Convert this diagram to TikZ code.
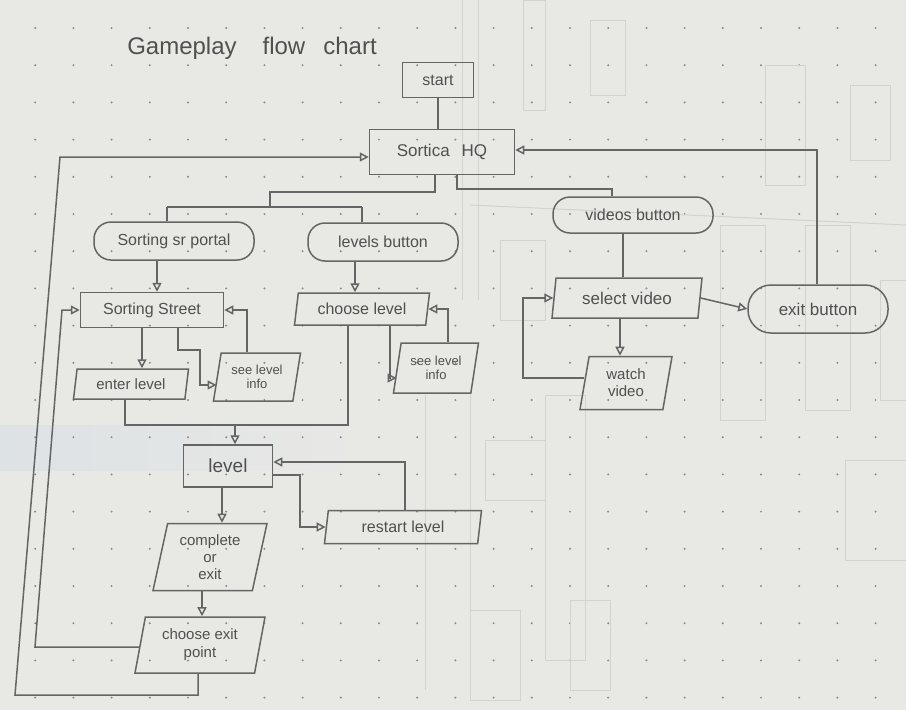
\documentclass[tikz,border=0pt]{standalone}
\usepackage{fontspec}
\setmainfont{Liberation Sans}
\usetikzlibrary{arrows.meta,shapes.geometric}
\definecolor{paper}{HTML}{E8E8E5}
\definecolor{band}{HTML}{DDE2E5}
\definecolor{ink}{HTML}{656565}
\definecolor{txt}{HTML}{505050}
\definecolor{faint}{HTML}{D2D2D0}
\definecolor{dotc}{HTML}{8A8A8A}
\begin{document}
\begin{tikzpicture}[x=1pt,y=-1pt,
  line/.style={draw=ink,line width=1.5pt},
  arr/.style={line,-{Triangle[open,length=9pt,width=9pt]}},
  box/.style={draw=ink,line width=1.5pt,text=txt,font=\fontsize{16}{17}\selectfont,inner sep=0pt,align=center},
  rectbox/.style={box,rectangle},
  pill/.style={box,rectangle,rounded corners=17pt},
  para/.style={box,trapezium,trapezium left angle=72,trapezium right angle=108,trapezium stretches body},
  faintbox/.style={draw=faint,line width=1pt}
]
\useasboundingbox (0,0) rectangle (906,710);
\fill[paper] (0,0) rectangle (906,710);
\shade[left color=band,right color=paper] (0,425) rectangle (360,470);
% dot grid
\foreach \i in {0,...,24}{
  \foreach \j in {0,...,18}{
    \fill[dotc] (-3+\i*38.2,28+\j*37.2) circle (1.1pt);
  }
}
% faint bleed-through marks
\draw[faintbox] (523,0) rectangle (545,110);
\draw[faintbox] (590,20) rectangle (625,95);
\draw[faintbox] (765,65) rectangle (805,185);
\draw[faintbox] (850,85) rectangle (890,160);
\draw[faintbox] (500,240) rectangle (545,320);
\draw[faintbox] (720,225) rectangle (765,420);
\draw[faintbox] (805,225) rectangle (850,410);
\draw[faintbox] (880,280) rectangle (906,400);
\draw[faintbox] (462,0) -- (462,300);
\draw[faintbox] (478,0) -- (478,300);
\draw[faintbox] (425,395) -- (425,690);
\draw[faintbox] (470,395) -- (470,690);
\draw[faintbox] (545,395) rectangle (585,660);
\draw[faintbox] (485,440) rectangle (545,500);
\draw[faintbox] (570,600) rectangle (610,690);
\draw[faintbox] (470,610) rectangle (520,700);
\draw[faintbox] (845,460) rectangle (906,560);
\draw[faintbox] (470,205) -- (906,225);

% title
\node[text=txt,font=\fontsize{24}{26}\selectfont] (title) at (252,48) {Gameplay\hspace{26pt}flow\hspace{18pt}chart};

% nodes
\node[rectbox,minimum width=71pt,minimum height=35pt] (start) at (438,80) {start};
\node[rectbox,minimum width=145pt,minimum height=45pt,font=\fontsize{17}{18}\selectfont] (hq) at (442,152) {Sortica\hspace{12pt}HQ};
\node[pill,minimum width=160pt,minimum height=38pt] (portal) at (174,241) {Sorting sr portal};
\node[pill,minimum width=150pt,minimum height=38pt] (levbtn) at (383,242) {levels button};
\node[pill,minimum width=160pt,minimum height=36pt] (vidbtn) at (633,215) {videos button};
\node[pill,rounded corners=23pt,minimum width=140pt,minimum height=48pt,font=\fontsize{17}{18}\selectfont] (exitbtn) at (818,309) {exit button};
\node[rectbox,minimum width=143pt,minimum height=35pt] (street) at (152,310) {Sorting Street};
\node[para,minimum width=135pt,minimum height=32pt] (chooselvl) at (362,309) {choose level};
\node[para,minimum width=115pt,minimum height=30pt,font=\fontsize{15}{16}\selectfont] (enter) at (131,384) {enter level};
\node[para,minimum width=87pt,minimum height=48pt,font=\fontsize{13}{14}\selectfont] (seeinfo1) at (257,377) {see level\\info};
\node[para,minimum width=85pt,minimum height=50pt,font=\fontsize{13}{14}\selectfont] (seeinfo2) at (436,368) {see level\\info};
\node[rectbox,minimum width=89pt,minimum height=42pt,font=\fontsize{19}{20}\selectfont] (level) at (228,466) {level};
\node[para,minimum width=157pt,minimum height=33pt] (restart) at (403,527) {restart level};
\node[para,minimum width=114pt,minimum height=67pt,font=\fontsize{15}{17}\selectfont] (complete) at (210,557) {complete\\or\\exit};
\node[para,minimum width=130pt,minimum height=56pt,font=\fontsize{15}{18}\selectfont] (chooseexit) at (200,645) {choose exit\\point};
\node[para,minimum width=150pt,minimum height=40pt,font=\fontsize{17}{18}\selectfont] (selectvid) at (627,298) {select video};
\node[para,minimum width=92pt,minimum height=53pt,font=\fontsize{15}{17}\selectfont] (watch) at (626,383) {watch\\video};

% helper coordinates
\coordinate (hqL) at ([xshift=-7pt]hq.south);
\coordinate (hqR) at ([xshift=15pt]hq.south);
\coordinate (b1) at (270,192);
\coordinate (b2) at (270,207);
\coordinate (hl) at (167,207);
\coordinate (hr) at (362,207);
\coordinate (vr) at (612,189);
\coordinate (er) at (817,160);
\coordinate (o1) at (198,695);
\coordinate (o2) at (15,695);
\coordinate (o3) at (60,157);
\coordinate (i1) at (35,647);
\coordinate (i2) at (62,310);
\coordinate (p1) at ([xshift=-17pt]portal.south);
\coordinate (p2) at ([xshift=-28pt]levbtn.south);
\coordinate (p3) at ([xshift=-10pt]street.south);
\coordinate (p4) at ([xshift=26pt]street.south);
\coordinate (s1) at (200,350);
\coordinate (p5) at ([xshift=-10pt]seeinfo1.north);
\coordinate (p6) at ([xshift=28pt]chooselvl.south);
\coordinate (p7) at ([xshift=12pt]seeinfo2.north);
\coordinate (en) at ([xshift=-6pt]enter.south);
\coordinate (cl) at ([xshift=-14pt]chooselvl.south);
\coordinate (m) at (235,425);
\coordinate (l1) at (300,475);
\coordinate (p8) at ([xshift=2pt]restart.north);
\coordinate (p9) at ([xshift=-6pt]level.south);
\coordinate (p10) at ([xshift=-8pt]complete.south);
\coordinate (p11) at ([xshift=-10pt]vidbtn.south);
\coordinate (p12) at ([xshift=-7pt]selectvid.south);
\coordinate (w1) at (523,378);

% connectors
\draw[line] (start.south) -- (start.south |- hq.north);
\draw[line] (hqL) |- (b1) -- (b2);
\draw[line] (hl) -- (hr);
\draw[line] (hl) -- (hl |- portal.north);
\draw[line] (hr) -- (hr |- levbtn.north);
\draw[line] (hqR) |- (vr) -- (vr |- vidbtn.north);
\draw[arr] (er |- exitbtn.north) -- (er) |- ([yshift=2pt]hq.east);
\draw[arr] (o1 |- chooseexit.south) -- (o1) -- (o2) -- (o3) -- (o3 -| hq.west);
\draw[arr] (chooseexit.west |- i1) -- (i1) -- (i2) -- (street.west);
\draw[arr] (p1) -- (p1 |- street.north);
\draw[arr] (p2) -- (p2 |- chooselvl.north);
\draw[arr] (p3) -- (p3 |- enter.north);
\draw[arr] (p4) |- (s1) |- ([yshift=-8pt]seeinfo1.west);
\draw[arr] (p5) |- (street.east);
\draw[arr] (p6) |- ([yshift=-10pt]seeinfo2.west);
\draw[arr] (p7) |- (chooselvl.east);
\draw[line] (en) |- (cl |- m) -- (cl);
\draw[arr] (m) -- (m |- level.north);
\draw[arr] (level.east |- l1) -- (l1) |- (restart.west);
\draw[arr] (p8) |- ([yshift=4pt]level.east);
\draw[arr] (p9) -- (p9 |- complete.north);
\draw[arr] (p10) -- (p10 |- chooseexit.north);
\draw[line] (p11) -- (p11 |- selectvid.north);
\draw[arr] (selectvid.east) -- (exitbtn.west);
\draw[arr] (p12) -- (p12 |- watch.north);
\draw[arr] (watch.west |- w1) -- (w1) |- (selectvid.west);
\end{tikzpicture}
\end{document}
